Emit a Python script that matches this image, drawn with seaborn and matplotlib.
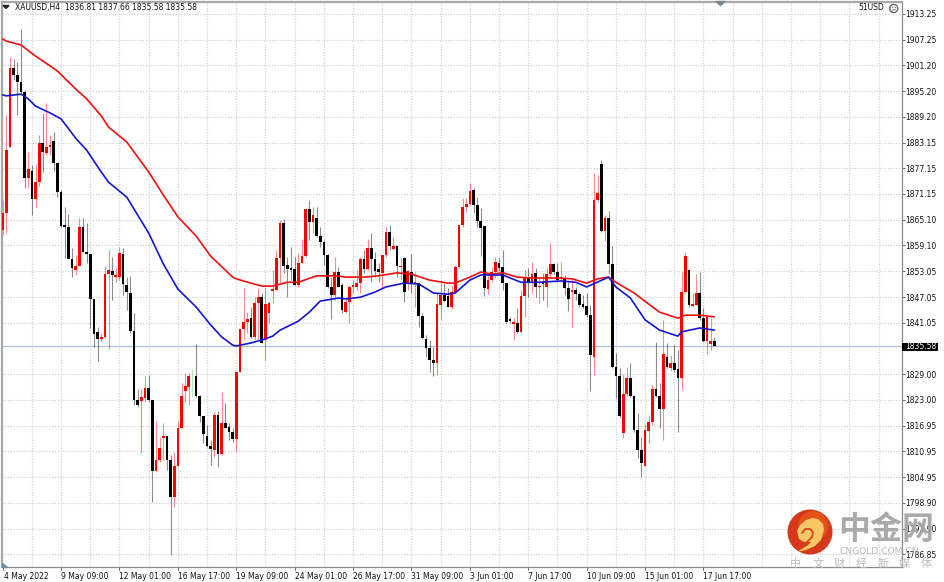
"""
XAUUSD H4 chart (MT4 look) : candles + two moving averages.
"""
import numpy as np
import pandas as pd
import matplotlib
matplotlib.use("Agg")
import matplotlib.pyplot as plt
from matplotlib.patches import Circle, Polygon, Rectangle
import seaborn as sns

opens = [1862.7,1866.7,1882.1,1900.6,1899.0,1897.3,1895.0,1874.9,1876.5,1870.0,1873.9,1883.1,1880.7,1882.1,1883.5,1878.4,
         1871.6,1863.9,1863.4,1855.9,1853.4,1854.3,1863.4,1857.5,1857.1,1846.6,1838.9,1837.2,1837.7,1852.4,1853.1,1851.7,
         1851.7,1857.1,1849.9,1848.0,1839.1,1823.0,1822.7,1823.4,1825.8,1823.0,1806.4,1808.9,1814.1,1814.5,1808.9,1800.3,
         1807.5,1816.4,1825.1,1826.0,1828.6,1828.6,1823.9,1819.2,1814.5,1812.2,1811.3,1819.4,1810.3,1817.6,1816.6,1815.5,
         1813.8,1829.5,1839.5,1841.2,1842.1,1837.7,1845.6,1847.0,1837.0,1843.3,1848.4,1848.7,1856.2,1864.3,1854.5,1853.8,
         1853.6,1849.9,1855.0,1856.6,1867.6,1864.6,1865.5,1861.3,1859.9,1856.9,1849.4,1847.5,1852.9,1849.9,1843.5,1845.9,
         1849.4,1849.4,1850.3,1855.9,1853.6,1858.5,1855.9,1853.6,1852.7,1856.9,1862.2,1858.3,1859.0,1854.1,1856.2,1850.3,
         1852.9,1850.3,1850.3,1842.6,1837.2,1835.1,1832.3,1831.6,1845.1,1847.5,1847.3,1844.7,1848.2,1854.1,1863.9,1868.1,
         1868.8,1872.1,1868.6,1864.8,1863.6,1848.9,1851.0,1852.9,1855.0,1854.1,1850.3,1841.9,1840.8,1841.0,1838.9,1847.3,
         1851.5,1850.3,1852.7,1849.4,1850.5,1849.4,1852.4,1854.8,1852.9,1851.2,1851.5,1849.2,1848.2,1848.7,1847.7,1845.4,
         1844.9,1842.8,1833.0,1869.7,1878.1,1862.5,1865.5,1854.8,1830.7,1828.6,1815.2,1824.4,1828.1,1823.9,1816.0,1811.3,
         1807.5,1815.7,1817.8,1825.5,1823.9,1820.9,1833.0,1830.5,1831.6,1830.2,1828.1,1848.2,1853.4,1844.9,1845.2,1848.0,
         1842.1,1836.8,1836.1,1836.81]
highs = [1869.7,1889.6,1903.2,1902.7,1902.0,1909.7,1895.5,1881.0,1877.9,1878.2,1885.0,1890.1,1892.4,1885.0,1885.6,1878.6,
         1872.1,1868.1,1866.5,1858.5,1856.9,1865.5,1865.5,1864.3,1857.1,1846.6,1840.0,1838.6,1854.3,1858.0,1856.4,1854.1,
         1858.7,1858.5,1851.7,1852.0,1843.3,1825.5,1825.5,1828.5,1828.8,1823.0,1818.3,1814.3,1817.6,1814.5,1810.1,1810.8,
         1818.1,1826.9,1829.3,1829.3,1830.2,1836.0,1824.1,1819.2,1817.1,1813.6,1820.2,1820.4,1824.8,1822.2,1817.6,1816.4,
         1829.5,1839.5,1849.2,1843.5,1844.7,1847.0,1849.2,1848.0,1849.4,1846.1,1853.4,1858.0,1865.1,1865.3,1856.4,1858.7,
         1856.4,1857.3,1860.6,1867.6,1869.7,1868.1,1868.1,1863.4,1860.4,1857.1,1851.7,1856.4,1854.1,1850.3,1847.0,1849.9,
         1851.0,1853.4,1856.4,1858.0,1860.6,1862.0,1857.5,1855.0,1856.9,1863.4,1863.9,1861.1,1859.2,1856.2,1856.4,1853.4,
         1857.1,1852.9,1850.3,1843.3,1838.2,1837.0,1835.4,1848.0,1850.3,1850.3,1849.2,1849.6,1854.5,1863.9,1870.2,1870.2,
         1873.7,1872.6,1870.4,1867.9,1863.6,1852.7,1854.1,1856.4,1856.2,1858.0,1850.3,1842.4,1842.1,1844.5,1848.7,1853.4,
         1853.8,1855.2,1853.8,1851.5,1852.7,1853.8,1859.7,1855.0,1855.0,1855.2,1852.2,1850.5,1851.5,1849.4,1848.2,1847.5,
         1848.0,1845.2,1876.1,1875.6,1879.1,1866.2,1867.2,1859.0,1834.0,1830.5,1829.0,1830.7,1831.6,1824.1,1819.9,1814.3,
         1817.3,1819.5,1826.4,1836.5,1826.9,1841.7,1836.3,1833.5,1835.8,1834.7,1852.9,1857.5,1853.4,1848.0,1852.4,1852.9,
         1844.5,1842.4,1842.1,1837.66]
lows = [1861.5,1862.0,1882.1,1897.8,1889.6,1894.8,1872.6,1872.6,1866.2,1868.1,1873.0,1876.3,1880.3,1880.3,1876.5,1870.4,
        1863.4,1856.2,1855.9,1851.7,1852.2,1854.3,1857.5,1855.0,1839.8,1835.4,1832.1,1836.8,1837.5,1834.9,1846.3,1850.5,
        1851.0,1847.5,1844.0,1838.6,1821.8,1821.3,1810.6,1822.5,1822.5,1799.1,1806.4,1808.5,1808.9,1806.6,1786.7,1798.0,
        1807.5,1816.4,1822.5,1821.8,1823.6,1823.6,1817.8,1812.9,1812.0,1807.8,1809.6,1807.3,1810.1,1816.4,1813.6,1813.2,
        1810.8,1829.5,1837.0,1838.6,1837.5,1837.0,1837.0,1836.3,1832.3,1841.0,1845.6,1848.7,1850.3,1852.7,1847.0,1851.0,
        1849.9,1849.4,1855.0,1856.4,1860.4,1862.0,1861.1,1858.7,1854.5,1849.2,1841.9,1846.3,1849.4,1843.3,1843.3,1841.0,
        1848.0,1848.7,1848.0,1852.7,1853.4,1850.5,1851.7,1850.5,1849.2,1856.4,1858.0,1858.0,1851.7,1851.0,1845.9,1848.7,
        1848.0,1844.7,1840.0,1837.2,1833.0,1829.5,1828.6,1828.8,1841.7,1845.9,1844.7,1844.2,1848.0,1853.8,1863.4,1866.9,
        1868.6,1866.7,1863.4,1856.6,1847.3,1847.7,1850.5,1851.5,1852.9,1848.7,1841.0,1841.0,1837.0,1838.6,1838.6,1842.4,
        1847.0,1848.0,1847.0,1845.6,1846.3,1844.7,1851.5,1852.4,1850.5,1850.5,1847.5,1843.8,1840.0,1846.3,1844.7,1844.5,
        1842.4,1825.1,1828.8,1869.3,1862.2,1860.2,1852.4,1830.4,1823.4,1819.0,1814.1,1823.9,1823.6,1815.5,1809.4,1804.9,
        1807.5,1812.9,1817.1,1823.6,1816.4,1813.6,1830.5,1829.7,1829.5,1815.5,1825.3,1848.0,1844.7,1844.7,1845.2,1841.7,
        1836.5,1833.7,1834.7,1835.58]
closes = [1866.7,1881.4,1900.6,1899.0,1897.3,1895.0,1874.9,1877.0,1870.0,1873.9,1883.1,1881.0,1882.1,1882.6,1878.4,1871.6,
          1863.6,1863.4,1855.9,1853.8,1854.3,1863.4,1857.5,1857.1,1846.6,1838.4,1837.2,1837.7,1852.4,1853.4,1852.2,1852.2,
          1857.3,1850.1,1848.2,1839.1,1823.0,1821.8,1823.6,1825.8,1823.0,1806.4,1808.9,1811.7,1814.5,1808.9,1800.3,1807.5,
          1816.4,1823.9,1826.2,1828.6,1828.6,1823.9,1819.2,1815.0,1812.2,1811.5,1819.4,1810.3,1817.6,1816.4,1815.5,1813.8,
          1829.5,1839.5,1841.2,1841.9,1837.7,1845.6,1847.0,1836.3,1845.4,1845.6,1848.9,1856.2,1864.3,1854.3,1853.6,1853.4,
          1849.9,1855.0,1856.6,1867.6,1864.6,1866.2,1861.3,1859.9,1856.9,1849.4,1847.5,1852.9,1849.4,1844.0,1845.9,1849.4,
          1849.9,1850.3,1855.9,1853.6,1858.5,1855.9,1853.1,1852.9,1856.9,1862.2,1859.0,1859.0,1854.3,1854.3,1848.2,1853.1,
          1850.3,1850.5,1842.6,1837.5,1835.1,1832.3,1831.6,1845.4,1847.5,1846.1,1844.7,1848.2,1854.1,1863.9,1868.1,1868.8,
          1871.8,1868.6,1864.8,1863.2,1849.2,1851.0,1852.9,1855.2,1853.8,1850.3,1841.2,1841.4,1841.0,1838.9,1847.3,1851.5,
          1850.3,1852.4,1849.4,1849.6,1850.1,1852.4,1854.8,1852.9,1851.0,1851.7,1849.2,1846.6,1848.7,1847.7,1845.2,1844.7,
          1842.8,1833.5,1869.7,1871.4,1862.5,1865.5,1854.8,1830.7,1828.6,1819.2,1824.4,1828.1,1823.9,1816.0,1811.3,1808.2,
          1816.0,1817.8,1825.5,1823.9,1820.9,1833.7,1830.7,1831.6,1830.0,1828.1,1848.2,1856.6,1845.2,1845.4,1848.0,1842.1,
          1836.8,1842.4,1836.8,1835.58]

red_bars = [0,1,5,9,13,15,20,23,27,29,34,40,44,48,53,57,63,64,68,71,74,78,81,86,91,94,99,103,108,112,117,122,124,128,
            131,134,137,141,145,152,156,160,163,166,168,173,177,180,185,187,191,195]
red_ma = [1907.4,1906.9,1906.0,1903.4,1901.1,1899.9,1895.7,1893.4,1889.4,1886.8,1883.3,1876.3,1870.9,1865.8,1861.3,1856.6,
          1851.7,1851.3,1850.3,1849.6,1849.6,1850.5,1850.5,1852.0,1852.0,1851.7,1851.7,1852.0,1852.7,1852.4,1851.0,1850.3,
          1850.3,1851.7,1852.9,1852.4,1852.7,1851.7,1851.5,1851.5,1851.3,1850.3,1851.3,1851.7,1850.5,1848.0,1845.4,1843.5,
          1842.1,1842.8,1842.8,1842.4]
blue_bars = [0,1,5,7,9,13,16,20,23,27,29,34,40,44,48,53,57,60,63,64,68,71,74,76,81,84,87,92,94,98,102,105,110,114,118,
             122,124,128,131,137,142,147,153,157,160,166,168,172,176,180,185,186,191,195]
blue_ma = [1894.3,1894.1,1894.5,1893.4,1891.7,1890.1,1888.7,1884.2,1881.4,1876.3,1873.9,1870.4,1862.0,1854.8,1848.9,1844.7,
           1840.5,1837.7,1835.8,1835.6,1836.3,1837.0,1837.9,1839.3,1841.4,1843.5,1846.1,1846.8,1846.6,1847.0,1848.2,1849.4,
           1850.3,1850.1,1848.0,1847.7,1848.0,1851.0,1852.2,1852.2,1850.5,1850.5,1850.8,1850.5,1849.4,1851.7,1849.4,1846.8,
           1841.7,1839.3,1837.9,1838.9,1839.8,1839.3]

price_ticks = [1913.25,1907.25,1901.20,1895.20,1889.20,1883.15,1877.15,1871.15,1865.10,1859.10,1853.05,1847.05,1841.05,
               1829.00,1823.00,1816.95,1810.95,1804.95,1798.90,1792.90,1786.85]
last_price = 1835.58
date_bars = [0,16,32,48,64,80,96,112,128,144,160,176,192]
date_labels = ["4 May 2022","9 May 09:00","12 May 01:00","16 May 17:00","19 May 09:00","24 May 01:00","26 May 17:00",
               "31 May 09:00","3 Jun 01:00","7 Jun 17:00","10 Jun 09:00","15 Jun 01:00","17 Jun 17:00"]

W, H = 944, 582
TXT = "#111111"
GRID = "#ced5df"

sns.set_style("white")
plt.rcParams["font.family"] = ["DejaVu Sans"]

df = pd.DataFrame({"open": opens, "high": highs, "low": lows, "close": closes})
df["bar"] = np.arange(len(df))
df["body"] = np.where(df.close >= df.open, "#ff0000", "#000000")
df["wick"] = np.where(df.close == df.open, "#58e058", df.body)

fig = plt.figure(figsize=(W / 100, H / 100), dpi=100)
ax = fig.add_axes([2 / W, 1 - 567 / H, 900 / W, 565 / H])
ax.set_xlim(-0.19, 246.4)
ax.set_ylim(1783.9, 1916.05)

# grille pointillee MT4
ax.set_xticks(np.arange(8, 247, 8))
ax.set_yticks(price_ticks)
ax.grid(True, color=GRID, linestyle=(0, (1, 1.2)), linewidth=0.9)
ax.set_axisbelow(True)
ax.axhline(last_price, color="#b4c4d8", linewidth=1.0, zorder=1)

# bougies
ax.vlines(df.bar, df.low, df.high, colors=df.wick, linewidth=0.8, alpha=0.45, zorder=2)
height = (df.close - df.open).abs().clip(lower=0.3)
height[df.close == df.open] = 0
ax.bar(df.bar, height, bottom=df[["open", "close"]].min(axis=1), width=0.74, color=df.body, linewidth=0, zorder=3)

# moyennes mobiles
sns.lineplot(x=red_bars, y=red_ma, color="#f01010", linewidth=1.2, estimator=None, ax=ax, zorder=4)
sns.lineplot(x=blue_bars, y=blue_ma, color="#1414d2", linewidth=1.2, estimator=None, ax=ax, zorder=5)

ax.yaxis.tick_right()
ax.set_yticklabels([f"{v:.2f}" for v in price_ticks], fontsize=5.5, color=TXT)
ax.tick_params(axis="y", length=2, width=0.6, color="#555555", pad=0.6)
ax.tick_params(axis="x", length=0)
ax.set_xticklabels([])
for s in ["top", "left"]:
    ax.spines[s].set_color("#a8a8a8")
    ax.spines[s].set_linewidth(1.6)
for s in ["right", "bottom"]:
    ax.spines[s].set_color("#8a8a8a")
    ax.spines[s].set_linewidth(0.9)

# dates en bas, alignees a gauche du repere
for b, lab in zip(date_bars, date_labels):
    ax.annotate(lab, (b, 0), xycoords=("data", "axes fraction"), xytext=(0 if b else 1, -7), textcoords="offset points",
                fontsize=5.5, color=TXT, ha="left", va="center", annotation_clip=False)
    ax.plot([b, b], [0, -0.006], transform=ax.get_xaxis_transform(), color="#555555", lw=0.6, clip_on=False)

# overlay en pixels : textes MT4 et filigrane
ov = fig.add_axes([0, 0, 1, 1], zorder=10)
ov.set_xlim(0, W)
ov.set_ylim(H, 0)
ov.axis("off")
ov.patch.set_alpha(0)

ov.text(15, 7.5, "XAUUSD,H4  1836.81 1837.66 1835.58 1835.58", fontsize=5.5, color=TXT, va="center", ha="left")
ov.add_patch(Polygon([[3, 5.5], [9, 5.5], [6, 8.5]], color="#222222"))
ov.add_patch(Polygon([[716, 1.5], [725, 1.5], [720.5, 5.5]], color="#7a8694"))
ov.add_patch(Polygon([[2, 563], [2, 567], [7, 567]], color="#6f8fb0"))
ov.text(884, 8, "51USD", fontsize=5.5, color=TXT, va="center", ha="right")
ov.add_patch(Circle((893.5, 8.5), 4.2, fc="none", ec="#555555", lw=0.6))
ov.text(893.5, 8.6, "\u2639", fontsize=7, color="#555555", va="center", ha="center")

# etiquette du dernier prix
ov.add_patch(Rectangle((902, 342.5), 36, 8.5, fc="#000000", ec="none"))
ov.text(905, 346.8, f"{last_price:.2f}", fontsize=5.5, color="#ffffff", va="center", ha="left")

# logo
swirl = [[797, 531], [800, 525], [806, 520], [812, 518], [818, 519], [823, 524], [824, 530], [821, 540], [815, 546],
         [806, 550], [797, 552], [808, 545], [811, 542], [804, 542], [799, 539]]
spiral_x = [802, 805, 810, 813, 812, 806]
spiral_y = [533, 529, 529, 532, 537, 543]
ov.add_patch(Circle((810, 532), 22.5, fc="#d5371a", ec="none"))
ov.add_patch(Circle((813, 526), 15, fc="#e2521a", ec="none"))
ov.add_patch(Polygon(swirl, fc="#f6c765", ec="none"))
ov.plot(spiral_x, spiral_y, color="#d5451a", lw=1.3)

cjk = ["Noto Sans CJK SC", "DejaVu Sans"]
ov.text(838, 530, "中金网", fontsize=23, fontweight="bold", color="#a6a6a6", va="center", ha="left", family=cjk, alpha=0.95)
ov.text(839, 551, "CNGOLD.COM.CN", fontsize=6.6, color="#bcbcbc", va="center", ha="left")
for n, ch in enumerate("中文财经新媒体"):
    ov.text(796 + n * 21.7, 564, ch, fontsize=8, color="#bdbdbd", va="center", ha="center", family=cjk)

fig.savefig("out.png", dpi=100)
plt.close(fig)
